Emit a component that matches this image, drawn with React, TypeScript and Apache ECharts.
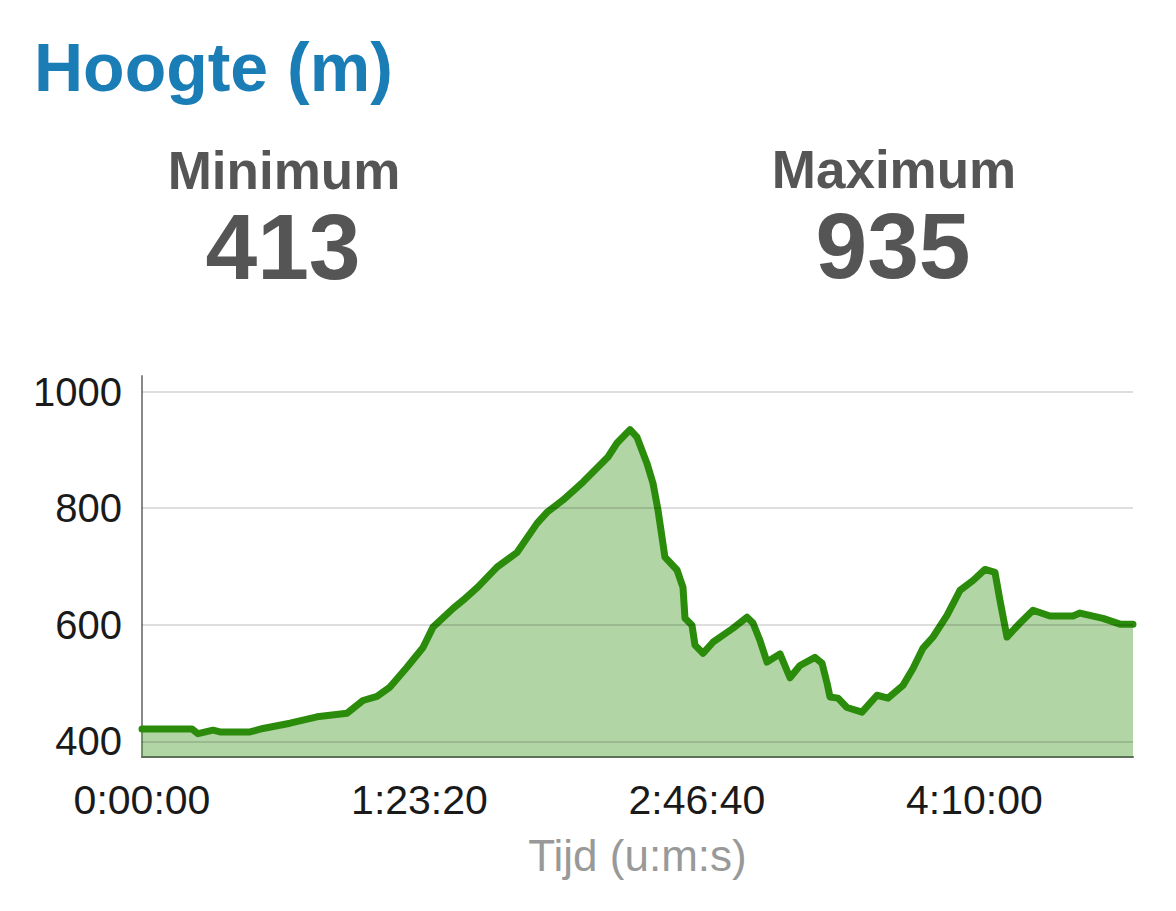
import { useEffect, useRef } from "react";
import * as echarts from "echarts";

// Elapsed time in seconds
const timesSec = [
  0, 901, 1009, 1279, 1406, 1946, 2180, 2667, 3154, 3694, 3982, 4235, 4469, 4775,
  5064, 5244, 5604, 5784, 6055, 6397, 6758, 7118, 7298, 7586, 7947, 8199, 8397,
  8560, 8794, 8920, 9100, 9208, 9298, 9424, 9641, 9749, 9785, 9911, 9965, 10109,
  10289, 10650, 10902, 11010, 11136, 11263, 11497, 11677, 11857, 12127, 12254,
  12344, 12398, 12542, 12704, 12974, 13245, 13443, 13713, 13893, 14074, 14254,
  14506, 14740, 14975, 15191, 15371, 15461, 15587, 15822, 16056, 16362, 16777,
  16903, 17317, 17624, 17858,
];
// Elevation in metres
const elevations = [
  421, 421, 413, 419, 416, 416, 422, 431, 442, 448, 470, 477, 493, 527,
  561, 596, 628, 642, 665, 699, 724, 774, 793, 814, 845, 869, 888,
  912, 935, 922, 877, 843, 797, 716, 694, 664, 611, 599, 565, 551,
  570, 594, 613, 603, 573, 536, 550, 509, 530, 544, 534,
  500, 476, 474, 458, 450, 479, 474, 496, 525, 560, 579,
  616, 659, 676, 695, 690, 642, 579, 603, 625, 615, 615,
  620, 611, 601, 601,
];
const yTickValues = [400, 600, 800, 1000];
const xTickValues = [0, 5000, 10000, 15000];
const chartTitle = "Hoogte (m)";
const minLabel = "Minimum";
const maxLabel = "Maximum";
const xAxisName = "Tijd (u:m:s)";

const FONT = "'Liberation Sans', Arial, Helvetica, sans-serif";

function pad(n: number) {
  return n < 10 ? "0" + n : String(n);
}
function fmtTime(s: number) {
  const h = Math.floor(s / 3600);
  const m = Math.floor((s % 3600) / 60);
  const sec = Math.round(s % 60);
  return `${h}:${pad(m)}:${pad(sec)}`;
}

export default function App() {
  const ref = useRef<HTMLDivElement>(null);
  useEffect(() => {
    if (!ref.current) return;
    const chart = echarts.init(ref.current, undefined, { renderer: "svg" });
    const data = timesSec.map((t, i) => [t, elevations[i]]);
    const minV = Math.min(...elevations);
    const maxV = Math.max(...elevations);
    chart.setOption({
      animation: false,
      backgroundColor: "#ffffff",
      textStyle: { fontFamily: FONT },
      graphic: [
        {
          type: "text",
          x: 34,
          y: 67,
          style: {
            text: chartTitle,
            font: `bold 68px ${FONT}`,
            fill: "#1a7db5",
            textAlign: "left",
            textVerticalAlign: "middle",
          },
        },
        {
          type: "text",
          x: 284,
          y: 170,
          style: {
            text: minLabel,
            font: `bold 53px ${FONT}`,
            fill: "#555555",
            textAlign: "center",
            textVerticalAlign: "middle",
          },
        },
        {
          type: "text",
          x: 283,
          y: 247,
          style: {
            text: String(minV),
            font: `bold 93px ${FONT}`,
            fill: "#555555",
            textAlign: "center",
            textVerticalAlign: "middle",
          },
        },
        {
          type: "text",
          x: 894,
          y: 169,
          style: {
            text: maxLabel,
            font: `bold 53px ${FONT}`,
            fill: "#555555",
            textAlign: "center",
            textVerticalAlign: "middle",
          },
        },
        {
          type: "text",
          x: 893,
          y: 246,
          style: {
            text: String(maxV),
            font: `bold 93px ${FONT}`,
            fill: "#555555",
            textAlign: "center",
            textVerticalAlign: "middle",
          },
        },
      ],
      grid: { left: 142, right: 43, top: 376, bottom: 154, containLabel: false },
      xAxis: {
        type: "value",
        min: 0,
        max: timesSec[timesSec.length - 1],
        name: xAxisName,
        nameLocation: "middle",
        nameGap: 76,
        nameTextStyle: { color: "#999999", fontSize: 44, fontFamily: FONT },
        axisLine: { show: true, lineStyle: { color: "#666666", width: 2 } },
        axisTick: { show: false, customValues: xTickValues },
        splitLine: { show: false },
        axisLabel: {
          customValues: xTickValues,
          formatter: (v: number) => fmtTime(v),
          color: "#1a1a1a",
          fontSize: 41,
          fontFamily: FONT,
          margin: 22,
        },
      },
      yAxis: {
        type: "value",
        min: 373,
        max: 1027,
        axisLine: { show: true, lineStyle: { color: "#888888", width: 2 } },
        axisTick: { show: false, customValues: yTickValues },
        splitLine: { show: false },
        axisLabel: {
          customValues: yTickValues,
          formatter: (v: number) => String(v),
          color: "#1a1a1a",
          fontSize: 40,
          fontFamily: FONT,
          margin: 20,
        },
      },
      series: [
        {
          type: "line",
          data,
          showSymbol: false,
          symbol: "none",
          smooth: false,
          z: 2,
          lineStyle: { color: "#2b8c0c", width: 7, join: "round", cap: "round" },
          areaStyle: { color: "rgb(60,150,30)", opacity: 0.4 },
          markLine: {
            silent: true,
            symbol: ["none", "none"],
            label: { show: false },
            lineStyle: { color: "rgba(0,0,0,0.13)", width: 2, type: "solid" },
            data: yTickValues.map((v) => ({ yAxis: v })),
          },
        },
      ],
    });
    return () => chart.dispose();
  }, []);
  return (
    <div
      ref={ref}
      style={{ position: "absolute", left: 0, top: 0, width: 1176, height: 911 }}
    />
  );
}
